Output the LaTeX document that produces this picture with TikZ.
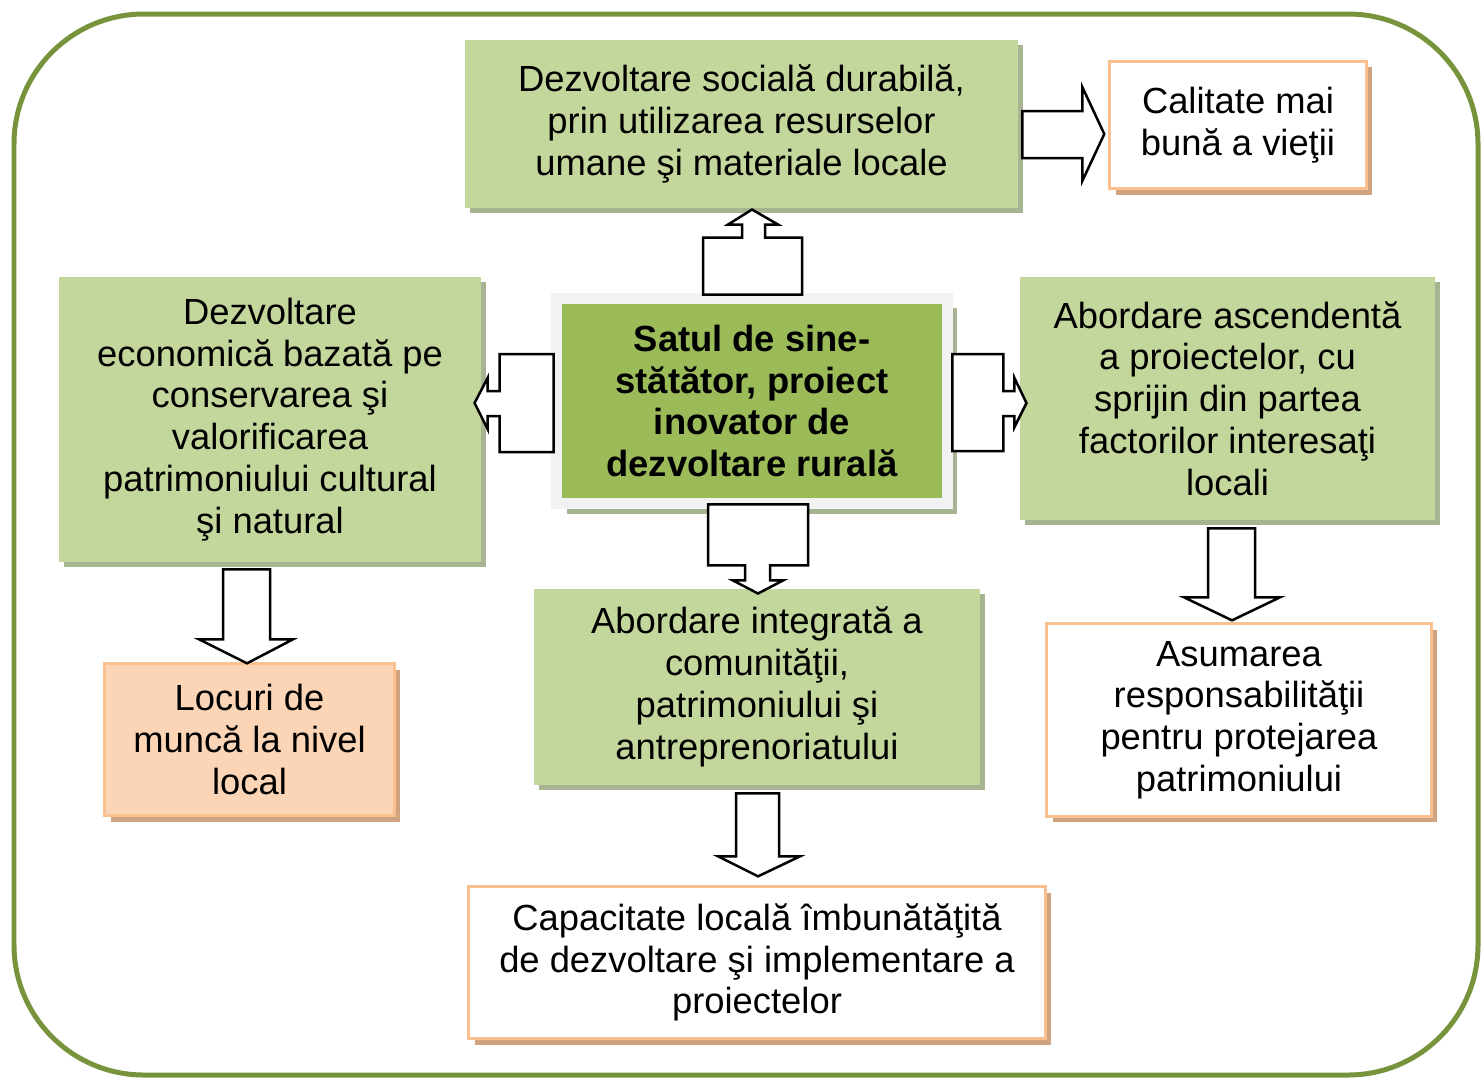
\documentclass[tikz,border=0pt]{standalone}
\usepackage{fontspec}
\setmainfont{Liberation Sans}
\usetikzlibrary{shadows}
\definecolor{frameolive}{HTML}{77933C}
\definecolor{lightgreen}{HTML}{C3D69B}
\definecolor{midgreen}{HTML}{9BBB59}
\definecolor{greenshade}{HTML}{A6B491}
\definecolor{orangeline}{HTML}{FAC090}
\definecolor{peach}{HTML}{FBD5B5}
\definecolor{orangeshade}{HTML}{CFA37F}
\definecolor{paleframe}{HTML}{F2F2F2}
\begin{document}
\begin{tikzpicture}
	[x=0.02cm,y=-0.02cm,
	txt/.style={inner sep=0pt,align=center,font=\fontsize{20.7}{23.8}\selectfont},
	greenbox/.style={txt,rectangle,fill=lightgreen,
		drop shadow={shadow xshift=0.1cm,shadow yshift=-0.1cm,fill=greenshade,opacity=1}},
	whitebox/.style={txt,rectangle,draw=orangeline,line width=0.06cm,fill=white,
		drop shadow={shadow xshift=0.12cm,shadow yshift=-0.12cm,fill=orangeshade,opacity=1}},
	peachbox/.style={whitebox,fill=peach},
	arr/.style={draw=black,fill=white,line width=0.05cm,line join=miter}
	]
	\useasboundingbox (0,0) rectangle (1481,1080);
	% outer frame
	\draw[frameolive,line width=0.1cm,rounded corners=2.6cm] (14,14) rectangle (1478,1075);

	% boxes
	\node[greenbox,minimum width=11.06cm,minimum height=3.36cm] (top) at (741.5,124)
		{Dezvoltare socială durabilă,\\prin utilizarea resurselor\\umane şi materiale locale};
	\node[whitebox,minimum width=5.14cm,minimum height=2.56cm] (cal) at (1238,125)
		{Calitate mai\\bună a vieţii};
	\node[greenbox,minimum width=8.44cm,minimum height=5.7cm] (left) at (270,419.5)
		{Dezvoltare\\economică bazată pe\\conservarea şi\\valorificarea\\patrimoniului cultural\\şi natural};
	\node[txt,rectangle,fill=midgreen,draw=paleframe,line width=0.22cm,
		minimum width=7.82cm,minimum height=4.12cm,font=\fontsize{20.7}{23.8}\selectfont\bfseries,
		drop shadow={shadow xshift=0.2cm,shadow yshift=-0.2cm,fill=greenshade,opacity=1}] (ctr) at (752,401)
		{Satul de sine-\\stătător, proiect\\inovator de\\dezvoltare rurală};
	\node[greenbox,minimum width=8.3cm,minimum height=4.86cm] (right) at (1227.5,398.5)
		{Abordare ascendentă\\a proiectelor, cu\\sprijin din partea\\factorilor interesaţi\\locali};
	\node[peachbox,minimum width=5.8cm,minimum height=3.04cm] (loc) at (249.5,739.5)
		{Locuri de\\muncă la nivel\\local};
	\node[greenbox,minimum width=8.92cm,minimum height=3.92cm] (integ) at (757,687)
		{Abordare integrată a\\comunităţii,\\patrimoniului şi\\antreprenoriatului};
	\node[whitebox,minimum width=7.7cm,minimum height=3.86cm] (asum) at (1239,720)
		{Asumarea\\responsabilităţii\\pentru protejarea\\patrimoniului};
	\node[whitebox,minimum width=11.54cm,minimum height=3.04cm] (cap) at (757,962.5)
		{Capacitate locală îmbunătăţită\\de dezvoltare şi implementare a\\proiectelor};

	% block arrows
	\draw[arr] (ctr.north) ++(-49,2) -- ++(0,-57) -- ++(39,0) -- ++(0,-13) -- ++(-14,0)
		-- ++(24,-15) -- ++(26,15) -- ++(-13,0) -- ++(0,13) -- ++(37,0) -- ++(0,57) -- cycle;
	\draw[arr] (ctr.south) ++(-44,-5) -- ++(0,61) -- ++(37,0) -- ++(0,15) -- ++(-12,0)
		-- ++(25,13) -- ++(25,-13) -- ++(-13,0) -- ++(0,-15) -- ++(38,0) -- ++(0,-61) -- cycle;
	\draw[arr] (ctr.west) ++(2.5,-47) -- ++(-54,0) -- ++(0,37) -- ++(-12,0) -- ++(0,-13)
		-- ++(-13,25) -- ++(13,26) -- ++(0,-13) -- ++(12,0) -- ++(0,36) -- ++(54,0) -- cycle;
	\draw[arr] (ctr.east) ++(-0.5,-47) -- ++(51,0) -- ++(0,37) -- ++(11,0) -- ++(0,-13)
		-- ++(12,25) -- ++(-12,24) -- ++(0,-11) -- ++(-11,0) -- ++(0,35) -- ++(-51,0) -- cycle;
	\draw[arr] (top.east) ++(4,-13) -- ++(60,0) -- ++(0,-24) -- ++(22,47) -- ++(-22,47)
		-- ++(0,-23) -- ++(-60,0) -- cycle;
	\draw[arr] (left.south) ++(-47,7) -- ++(0,70) -- ++(-24,0) -- ++(48,24) -- ++(46,-24)
		-- ++(-23,0) -- ++(0,-70) -- cycle;
	\draw[arr] (integ.south) ++(-21,8) -- ++(0,63) -- ++(-18,0) -- ++(40,20) -- ++(42,-20)
		-- ++(-21,0) -- ++(0,-63) -- cycle;
	\draw[arr] (right.south) ++(-19.5,8) -- ++(0,69) -- ++(-24,0) -- ++(48,23) -- ++(48,-23)
		-- ++(-25,0) -- ++(0,-69) -- cycle;
\end{tikzpicture}
\end{document}
